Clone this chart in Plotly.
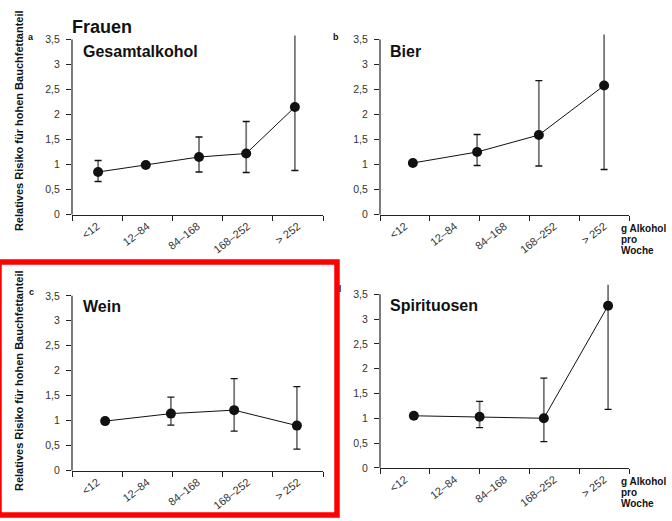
import plotly.graph_objects as go

# ---------------- data ----------------
categories = ["<12", "12–84", "84–168", "168–252", "> 252"]
cat_pos = [0.5, 1.5, 2.5, 3.5, 4.5]
boundaries = [0, 1, 2, 3, 4, 5]
y_tick_vals = [0, 0.5, 1, 1.5, 2, 2.5, 3, 3.5]
y_tick_text = ["0", "0,5", "1", "1,5", "2", "2,5", "3", "3,5"]

# panel a – Gesamtalkohol
x_a = [0.52, 1.47, 2.53, 3.47, 4.44]
rr_a = [0.85, 0.99, 1.15, 1.22, 2.15]
lo_a = [0.66, None, 0.85, 0.84, 0.88]
hi_a = [1.08, None, 1.55, 1.86, 3.58]

# panel b – Bier
x_b = [0.66, 1.95, 3.19, 4.50]
rr_b = [1.03, 1.25, 1.59, 2.58]
lo_b = [None, 0.98, 0.97, 0.90]
hi_b = [None, 1.60, 2.68, 3.60]

# panel c – Wein
x_c = [0.66, 1.97, 3.23, 4.48]
rr_c = [0.99, 1.14, 1.21, 0.90]
lo_c = [None, 0.91, 0.79, 0.43]
hi_c = [None, 1.47, 1.84, 1.68]

# panel d – Spirituosen
x_d = [0.68, 2.00, 3.29, 4.58]
rr_d = [1.05, 1.03, 1.00, 3.27]
lo_d = [None, 0.81, 0.53, 1.18]
hi_d = [None, 1.34, 1.81, 3.69]

panel_titles = ["Gesamtalkohol", "Bier", "Wein", "Spirituosen"]
panel_letters = ["a", "b", "c", "d"]
y_title = "Relatives Risiko für hohen Bauchfettanteil"
x_unit_lines = ["g Alkohol", "pro", "Woche"]
main_title = "Frauen"

# ---------------- layout geometry ----------------
W, H = 672, 521
Y_SHOWN = 3.5
Y_TOP = 3.72
AXIS_MAX = 3.5

def px(x):
    return x / W

def py(y):
    return 1 - y / H

# pixel boxes: (left, right, y of value 0, y of value 3.5)
boxes = [
    (72, 323, 217, 40),
    (380, 629, 217, 40),
    (72, 323, 476, 299.3),
    (380, 629, 473.3, 297.7),
]

FONT = "Liberation Sans, Arial, sans-serif"
fig = go.Figure()

panels = [
    (x_a, rr_a, lo_a, hi_a),
    (x_b, rr_b, lo_b, hi_b),
    (x_c, rr_c, lo_c, hi_c),
    (x_d, rr_d, lo_d, hi_d),
]

shapes = []
annotations = []
CAP = 0.07

for i, ((xs, rr, lo, hi), box) in enumerate(zip(panels, boxes)):
    n = "" if i == 0 else str(i + 1)
    xa, ya = "x" + n, "y" + n
    left, right, y0px, y35px = box
    unit = (y0px - y35px) / Y_SHOWN
    ytop_px = y0px - unit * Y_TOP
    dom_x = [px(left), px(right)]
    dom_y = [py(y0px), py(ytop_px)]

    # error bar stems and caps
    ex, ey = [], []
    cx, cy = [], []
    for xv, l, h in zip(xs, lo, hi):
        if l is None:
            continue
        ex += [xv, xv, None]
        ey += [l, h, None]
        for v in (l, h):
            if v <= AXIS_MAX:
                cx += [xv - CAP, xv + CAP, None]
                cy += [v, v, None]
    fig.add_trace(go.Scatter(x=ex, y=ey, mode="lines", xaxis=xa, yaxis=ya,
                             line=dict(color="#777777", width=1.8),
                             hoverinfo="skip", showlegend=False))
    fig.add_trace(go.Scatter(x=cx, y=cy, mode="lines", xaxis=xa, yaxis=ya,
                             line=dict(color="#111111", width=1.3),
                             hoverinfo="skip", showlegend=False))
    fig.add_trace(go.Scatter(x=xs, y=rr, mode="lines+markers", xaxis=xa, yaxis=ya,
                             line=dict(color="#111111", width=1),
                             marker=dict(color="#111111", size=10),
                             showlegend=False))

    fig.update_layout(**{
        ("xaxis" + n): dict(
            domain=dom_x, range=[0, 5], anchor=ya,
            tickmode="array", tickvals=cat_pos, ticktext=categories,
            ticks="", tickangle=-38, showgrid=False, zeroline=False,
            showline=True, linecolor="#222222", linewidth=1.2,
            tickfont=dict(family=FONT, size=11, color="#333333"),
            minor=dict(tickmode="array", tickvals=boundaries, ticks="outside",
                       ticklen=5, tickcolor="#222222", tickwidth=1.2, showgrid=False),
            fixedrange=True,
        ),
        ("yaxis" + n): dict(
            domain=dom_y, range=[0, Y_TOP], anchor=xa,
            tickmode="array", tickvals=y_tick_vals, ticktext=y_tick_text,
            ticks="outside", ticklen=5, tickcolor="#222222", tickwidth=1.2,
            showgrid=False, zeroline=False, showline=False,
            tickfont=dict(family=FONT, size=10.5, color="#333333"),
            ticklabelstandoff=4,
            fixedrange=True,
        ),
    })
    # y axis spine, from 0 to 3.5 only
    shapes.append(dict(type="line", xref="paper", yref="paper",
                       x0=dom_x[0], x1=dom_x[0],
                       y0=py(y0px), y1=py(y35px),
                       line=dict(color="#222222", width=1.2)))

# panel titles
title_pos = [(81, 52), (388, 52), (81, 310.5), (388, 309)]
for t, (x, y) in zip(panel_titles, title_pos):
    annotations.append(dict(text="<b>%s</b>" % t, x=px(x), y=py(y), xref="paper", yref="paper",
                            xanchor="left", yanchor="middle", showarrow=False,
                            font=dict(family=FONT, size=16, color="#111111")))

# panel letters (a, b, c as annotations)
letter_pos = [(31, 37), (336, 37), (31, 295)]
for t, (x, y) in zip(panel_letters[:3], letter_pos):
    annotations.append(dict(text="<b>%s</b>" % t, x=px(x), y=py(y), xref="paper", yref="paper",
                            xanchor="center", yanchor="middle", showarrow=False,
                            font=dict(family=FONT, size=9, color="#111111")))

# letter d lies mostly beneath the red frame: draw it as trace text on a hidden
# full-figure overlay axis pair (pixel units) so the frame (layer above) covers it
fig.add_trace(go.Scatter(x=[338.5], y=[293.5], mode="text", text=["<b>%s</b>" % panel_letters[3]],
                         textfont=dict(family=FONT, size=9, color="#111111"),
                         xaxis="x5", yaxis="y5",
                         hoverinfo="skip", showlegend=False))
fig.update_layout(
    xaxis5=dict(domain=[0, 1], range=[0, W], visible=False, anchor="y5", fixedrange=True),
    yaxis5=dict(domain=[0, 1], range=[H, 0], visible=False, anchor="x5", fixedrange=True),
)

# main title
annotations.append(dict(text="<b>%s</b>" % main_title, x=px(70), y=py(27.5), xref="paper", yref="paper",
                        xanchor="left", yanchor="middle", showarrow=False,
                        font=dict(family=FONT, size=18, color="#111111")))

# y-axis titles
for yc in (122.5, 385.5):
    annotations.append(dict(text="<b>%s</b>" % y_title, x=px(19), y=py(yc), xref="paper", yref="paper",
                            xanchor="center", yanchor="middle", textangle=-90, showarrow=False,
                            font=dict(family=FONT, size=11, color="#111111")))

# unit label (right column)
for base in (231.5, 487):
    for k, line in enumerate(x_unit_lines):
        annotations.append(dict(text="<b>%s</b>" % line, x=px(620), y=py(base + k * 11), xref="paper",
                                yref="paper", xanchor="left", yanchor="middle", showarrow=False,
                                borderpad=0,
                                font=dict(family=FONT, size=10, color="#111111")))

# red highlight frame around panel c
shapes.append(dict(type="rect", xref="paper", yref="paper", layer="above",
                   x0=px(-1), x1=px(337), y0=py(521), y1=py(265),
                   line=dict(color="#ff0000", width=5.5)))

fig.update_layout(
    width=W, height=H, margin=dict(l=0, r=0, t=0, b=0),
    paper_bgcolor="white", plot_bgcolor="rgba(0,0,0,0)",
    shapes=shapes, annotations=annotations,
    font=dict(family=FONT),
)

fig.write_html("out.html")
